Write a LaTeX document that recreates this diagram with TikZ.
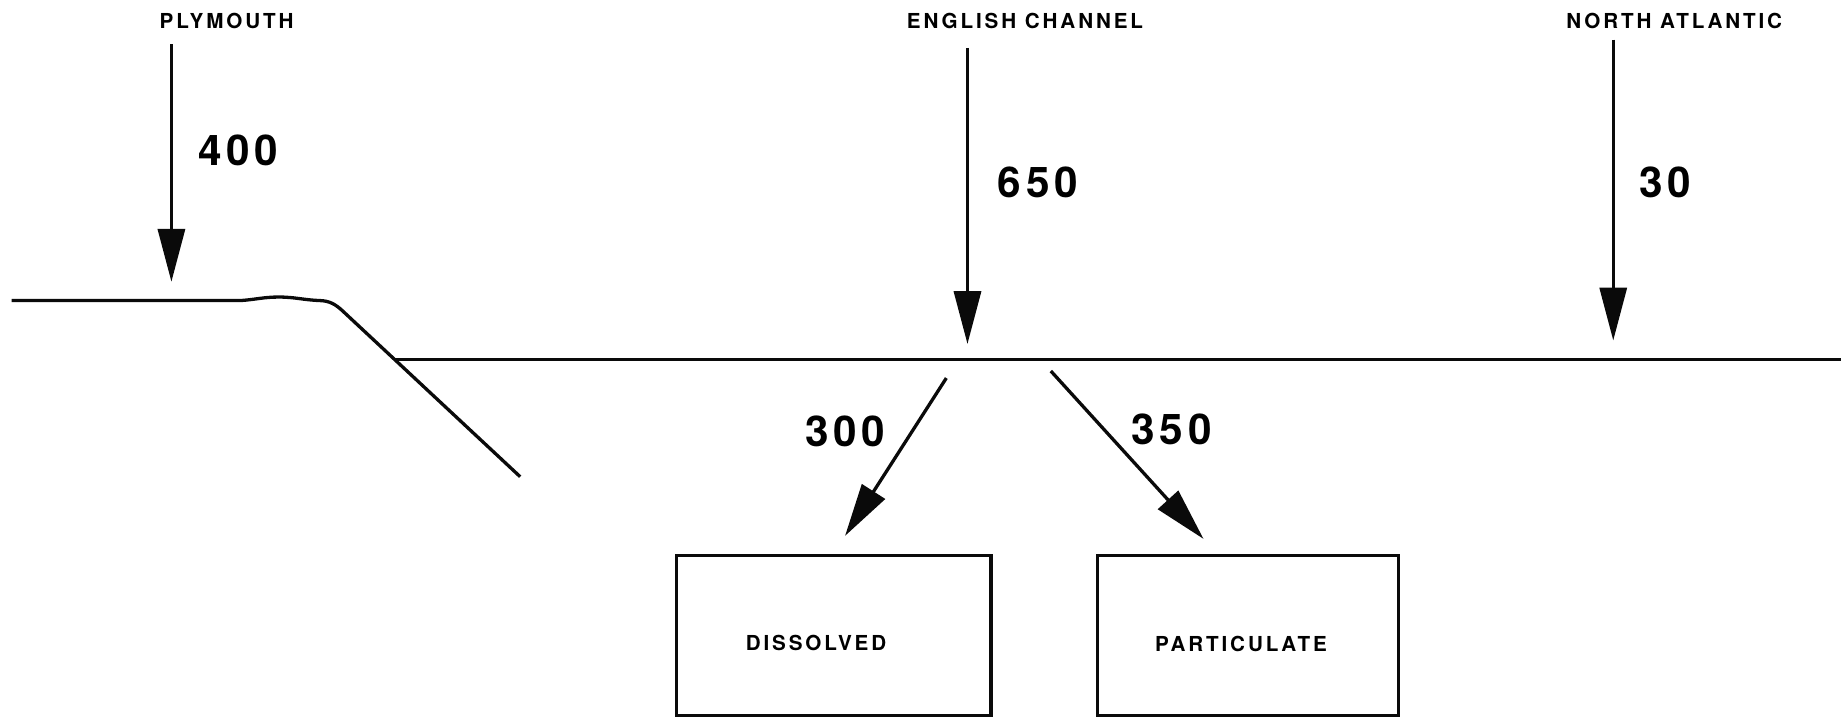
\documentclass[tikz,border=0pt]{standalone}
\usepackage{fontspec}
\setmainfont{TeX Gyre Heros}
\newfontfamily\placefont[LetterSpace=14]{TeX Gyre Heros}
\newfontfamily\numfont[LetterSpace=11]{TeX Gyre Heros}
\usepackage{tikz}
\usetikzlibrary{positioning,calc,arrows.meta}
\usepackage{xcolor}
\definecolor{inkblack}{RGB}{10,10,10}

\begin{document}
\begin{tikzpicture}[
  place/.style={font=\placefont\bfseries\fontsize{10}{11}\selectfont, inner sep=1pt},
  amount/.style={font=\numfont\bfseries\fontsize{20.5}{22}\selectfont, inner sep=0pt},
  flux/.style={-{Triangle[length=0.9cm, width=0.46cm]}, line width=1.6pt, inkblack},
  coast/.style={line width=1.6pt, inkblack, line join=round},
  pool/.style={draw=inkblack, line width=1.6pt, minimum height=2.73cm},
]
\useasboundingbox (0,0) rectangle (31.36,12.22);
%─── Coast and sea surface ─────────────────────────────────────────────────
\coordinate (slopetop)  at (5.84,6.92);
\coordinate (slopefoot) at (8.86,4.1);
\coordinate (shelf) at ($(slopetop)!0.291!(slopefoot)$);
\draw[coast] (0.2,7.1) -- (4.1,7.1) to[out=4,in=180] (4.75,7.16)
  to[out=0,in=178] (5.45,7.1) to[out=-2,in=137] (slopetop) -- (slopefoot);
\draw[coast] (shelf) -- ++(24.7,0);
%─── Sources ───────────────────────────────────────────────────────────────
\node[place] (plym) at (3.86,11.86)  {PLYMOUTH};
\node[place] (engc) at (17.46,11.86) {ENGLISH CHANNEL};
\node[place] (natl) at (28.52,11.86) {NORTH ATLANTIC};
\coordinate (plymin) at (2.92,7.42);
\coordinate (engcin) at (16.48,6.36);
\coordinate (natlin) at (27.48,6.42);
\draw[flux, shorten <=0.22cm] (plym.south -| plymin) -- (plymin);
\draw[flux, shorten <=0.28cm] (engc.south -| engcin) -- (engcin);
\draw[flux, shorten <=0.14cm] (natl.south -| natlin) -- (natlin);
\node[amount] (q400) at (4.06,9.66)  {400};
\node[amount] (q650) at (17.68,9.12) {650};
\node[amount] (q30)  at (28.36,9.12) {30};
%─── Sinks ─────────────────────────────────────────────────────────────────
\node[pool, minimum width=5.36cm] (diss) at (14.2,1.395)  {};
\node[pool, minimum width=5.12cm] (part) at (21.26,1.395) {};
\node[place] (disslbl) at ([xshift=-0.3cm, yshift=-0.13cm]diss.center) {DISSOLVED};
\node[place] (partlbl) at ([xshift=-0.12cm, yshift=-0.15cm]part.center) {PARTICULATE};
\coordinate (dissout) at (16.12,5.78);
\coordinate (partout) at (17.9,5.9);
\draw[flux, shorten >=0.36cm] (dissout) -- (diss.north);
\draw[flux, shorten >=0.34cm] (partout) -- ([xshift=-0.53cm]part.north);
\node[amount] (q300) at (14.4,4.88)  {300};
\node[amount] (q350) at (19.96,4.9)  {350};
\end{tikzpicture}
\end{document}
